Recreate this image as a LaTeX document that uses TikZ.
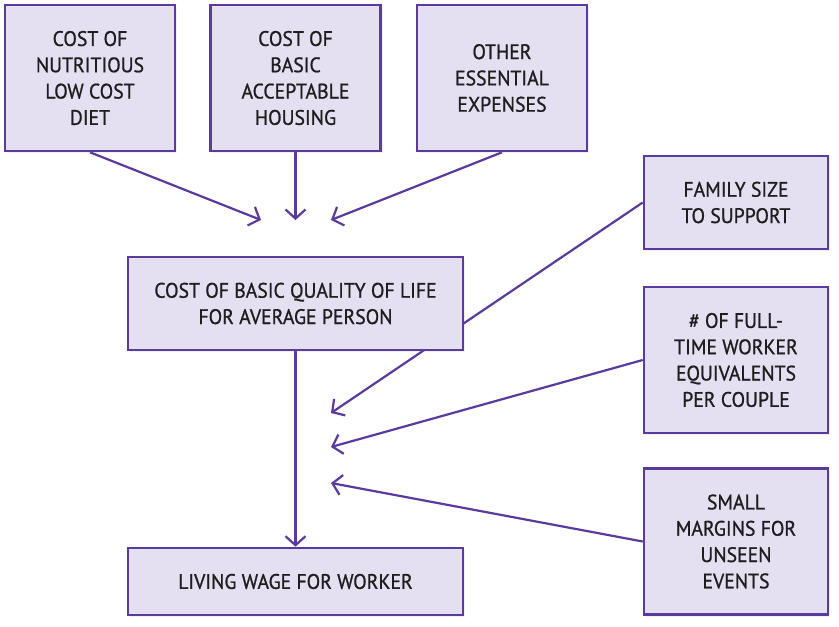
\documentclass[tikz,border=0pt]{standalone}
\usepackage{fontspec}
\setmainfont{PT Sans}
\newfontfamily\boxfont{PT Sans}[FakeBold=0.9,FakeStretch=0.94]
\usepackage{tikz}
\usetikzlibrary{arrows.meta,shadows,backgrounds,positioning}
\definecolor{boxline}{HTML}{5B3A9E}
\definecolor{boxfill}{HTML}{E4E0F1}
\definecolor{boxtext}{HTML}{1E1E1E}
\tikzset{
	box/.style={draw=boxline,fill=boxfill,line width=2.6pt,text=boxtext,align=center,
		font=\boxfont\fontsize{21}{26.3}\selectfont,inner sep=0pt,
		drop shadow={opacity=0.12,shadow xshift=2pt,shadow yshift=-2pt}},
	link/.style={draw=boxline,line width=2.2pt,-{Straight Barb[length=9pt,width=20pt,line width=2.2pt]}}
}
\begin{document}
\begin{tikzpicture}[x=1pt,y=-1pt]
		\useasboundingbox (0,0) rectangle (839,627);
		% top row
		\node[box,minimum width=170pt,minimum height=146pt] (diet) at (90,78) {COST OF\\NUTRITIOUS\\LOW COST\\DIET};
		\node[box,minimum width=170pt,minimum height=146pt] (housing) at (295.5,78) {COST OF\\BASIC\\ACCEPTABLE\\HOUSING};
		\node[box,minimum width=170pt,minimum height=146pt] (other) at (502,78) {OTHER\\ESSENTIAL\\EXPENSES};
		% middle column
		\node[box,minimum width=335pt,minimum height=93pt] (quality) at (295.5,303.5) {COST OF BASIC QUALITY OF LIFE\\FOR AVERAGE PERSON};
		\node[box,minimum width=335pt,minimum height=67pt] (wage) at (295.5,581.5) {LIVING WAGE FOR WORKER};
		% right column
		\node[box,minimum width=184pt,minimum height=93pt] (family) at (736,202.5) {FAMILY SIZE\\TO SUPPORT};
		\node[box,minimum width=184pt,minimum height=146pt] (workers) at (736,360) {\# OF FULL-\\TIME WORKER\\EQUIVALENTS\\PER COUPLE};
		\node[box,minimum width=184pt,minimum height=146pt] (margins) at (736,541.5) {SMALL\\MARGINS FOR\\UNSEEN\\EVENTS};
		% free ends
		\coordinate (dietend) at (261,220);
		\coordinate (housingend) at (295.5,220);
		\coordinate (otherend) at (331,220);
		\coordinate (familyend) at (331,413);
		\coordinate (workersend) at (331,447);
		\coordinate (marginsend) at (331,483);
		\begin{scope}[on background layer]
			\draw[link] (diet.south) -- (dietend);
			\draw[link] (housing.south) -- (housingend);
			\draw[link] (other.south) -- (otherend);
			\draw[link] (family.west) -- (familyend);
			\draw[link] (workers.west) -- (workersend);
			\draw[link] (margins.west) -- (marginsend);
			\draw[link] (quality.south) -- (wage.north);
		\end{scope}
	\end{tikzpicture}
\end{document}
